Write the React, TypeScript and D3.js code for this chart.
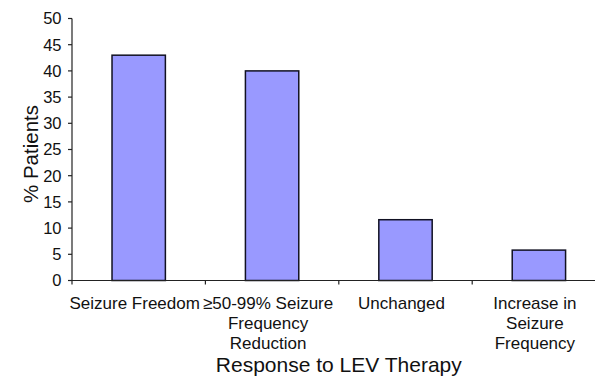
import React from "react";
import * as d3 from "d3";

const categories = ["Seizure Freedom", "≥50-99% Seizure Frequency Reduction", "Unchanged", "Increase in Seizure Frequency"];
const categoryLines = [["Seizure Freedom"], ["≥50-99% Seizure", "Frequency", "Reduction"], ["Unchanged"], ["Increase in", "Seizure", "Frequency"]];
const values = [43, 40, 11.6, 5.8];
const yTicks = [0, 5, 10, 15, 20, 25, 30, 35, 40, 45, 50];
const yTitle = "% Patients";
const xTitle = "Response to LEV Therapy";

const W = 595;
const H = 377;
const FONT = "'Liberation Sans', Arial, Helvetica, sans-serif";

export default function App() {
  const x = d3.scaleBand<string>().domain(categories).range([72, 605.6]).paddingInner(0.6).paddingOuter(0.3);
  const y = d3.scaleLinear().domain([0, 50]).range([280.5, 18.5]);
  const step = x.step();
  const boundaries = categories.map((c) => (x(c) as number) - step * 0.3);
  const labelX = (c: string) => (x(c) as number) + x.bandwidth() / 2 - 4;
  const [r0, r1] = x.range();

  return (
    <svg width={W} height={H} style={{ position: "absolute", left: 0, top: 0, background: "#fff" }} fontFamily={FONT}>
      <rect x={0} y={0} width={W} height={H} fill="#fff" />
      {categories.map((c, i) => (
        <rect key={c} x={x(c)} y={y(values[i])} width={x.bandwidth()} height={y(0) - y(values[i])} fill="#9999FF" stroke="#111122" strokeWidth={1.5} />
      ))}
      <line x1={72} x2={72} y1={y(0)} y2={y(50)} stroke="#222" strokeWidth={1.2} />
      {yTicks.map((t) => (
        <g key={t}>
          <line x1={68} x2={72} y1={y(t)} y2={y(t)} stroke="#222" strokeWidth={1.2} />
          <text x={61.5} y={y(t)} dy="0.36em" textAnchor="end" fontSize={16.5} fill="#111">{t}</text>
        </g>
      ))}
      <line x1={72} x2={W} y1={y(0)} y2={y(0)} stroke="#222" strokeWidth={1.2} />
      {boundaries.map((b, i) => (
        <line key={i} x1={b} x2={b} y1={y(0)} y2={y(0) + 4} stroke="#222" strokeWidth={1.2} />
      ))}
      {categories.map((c, i) => (
        <text key={c} x={labelX(c)} textAnchor="middle" fontSize={17} fill="#111">
          {categoryLines[i].map((ln, j) => (
            <tspan key={j} x={labelX(c)} y={309 + j * 20}>{ln}</tspan>
          ))}
        </text>
      ))}
      <text x={(r0 + r1) / 2} y={372} textAnchor="middle" fontSize={21} fill="#111">{xTitle}</text>
      <text transform="translate(38,154) rotate(-90)" textAnchor="middle" fontSize={20.5} fill="#111">{yTitle}</text>
    </svg>
  );
}
